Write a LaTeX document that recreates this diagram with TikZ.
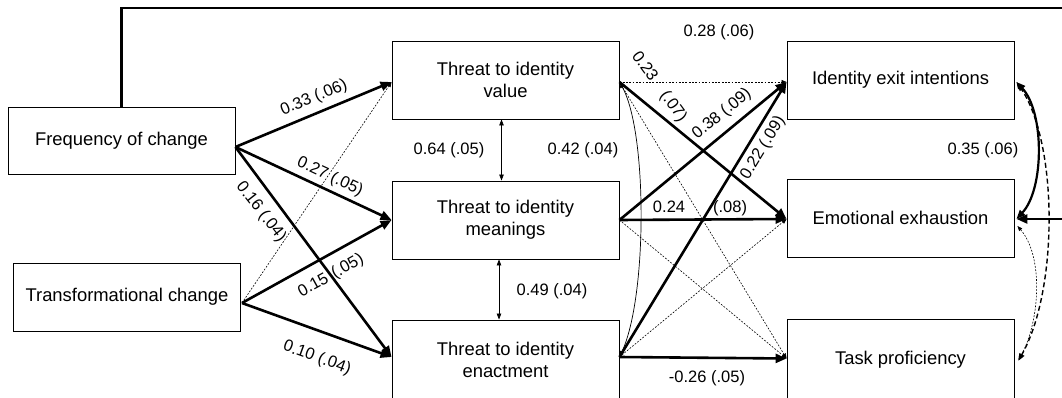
\documentclass[tikz,border=0pt]{standalone}
\usepackage{fontspec}
\setmainfont{Liberation Sans}
\usetikzlibrary{arrows.meta,calc}
\begin{document}
\begin{tikzpicture}[x=1pt,y=-1pt,
  box/.style={draw,line width=0.9pt,minimum width=227pt,minimum height=78pt,inner sep=0pt,align=center,font=\fontsize{18.4}{22}\selectfont},
  lab/.style={font=\fontsize{16.5}{18}\selectfont,inner sep=0pt},
  strong/.style={line width=2.6pt,-{Triangle[length=11pt,width=9pt]}},
  dotarr/.style={line width=0.6pt,dash pattern=on 1.8pt off 1.5pt,-{Triangle[length=5pt,width=4pt]}},
  thincorr/.style={line width=0.7pt,{Triangle[length=6pt,width=4.5pt]}-{Triangle[length=6pt,width=4.5pt]}},
  strongcorr/.style={line width=2.2pt,{Triangle[length=9pt,width=7pt]}-{Triangle[length=9pt,width=7pt]}},
  dashcorr/.style={line width=1.4pt,dash pattern=on 5pt off 3pt,{Triangle[length=7pt,width=5.5pt]}-{Triangle[length=7pt,width=5.5pt]}},
  dotcorr/.style={line width=0.6pt,dash pattern=on 1.8pt off 1.5pt,{Triangle[length=5pt,width=4pt]}-{Triangle[length=5pt,width=4pt]}}]
\useasboundingbox (0,0) rectangle (1062,398);
\clip (0,0) rectangle (1062,398);

% boxes
\node[box,minimum height=67pt] (F) at (121.5,140.5) {Frequency of change};
\node[box,minimum height=68pt] (T) at (127,297) {Transformational change};
\node[box] (V) at (505.5,80) {Threat to identity\\value};
\node[box] (M) at (505.5,220) {Threat to identity\\meanings};
\node[box,minimum height=80pt] (E) at (505.5,360) {Threat to identity\\enactment};
\node[box] (X) at (900.5,80) {Identity exit intentions};
\node[box] (EE) at (900.5,218) {Emotional exhaustion};
\node[box,minimum height=81pt] (TP) at (900.5,359.5) {Task proficiency};

% anchor points
\coordinate (Fo) at ([yshift=-6.5pt]F.east);
\coordinate (To) at ([yshift=-6pt,xshift=1pt]T.east);
\coordinate (Vi) at ([yshift=-2pt]V.west);
\coordinate (Vo) at ([yshift=-2pt]V.east);
\coordinate (Mi) at (M.west);
\coordinate (Mo) at (M.east);
\coordinate (Ei) at ([yshift=3pt]E.west);
\coordinate (Eo) at ([yshift=3pt]E.east);
\coordinate (Xi) at ([yshift=-2pt]X.west);
\coordinate (EEi) at ([yshift=-1pt]EE.west);
\coordinate (TPi) at ([yshift=1pt]TP.west);
\coordinate (Xr) at ($(X.east)+(2,2)$);
\coordinate (EEr) at ($(EE.east)+(2,1)$);
\coordinate (EEr2) at ($(EE.east)+(3,8)$);
\coordinate (TPr) at ($(TP.east)+(4,1)$);
\coordinate (topR) at (1080,8);

% dotted paths
\draw[dotarr] (To) -- (Vi);
\draw[dotarr] (Vo) -- (Xi);
\draw[dotarr] (Vo) -- (TPi);
\draw[dotarr] (Mo) -- (TPi);
\draw[dotarr] (Eo) -- (EEi);

% thin correlations
\draw[thincorr] ([xshift=-4pt]V.south) -- ([xshift=-4pt]M.north);
\draw[thincorr] ([xshift=-6.5pt]M.south) -- ([xshift=-6.5pt]E.north);
\draw[thincorr] (Vo) .. controls ($(Vo)+(28,50)$) and ($(Eo)+(28,-60)$) .. (Eo);

% strong paths
\draw[strong] (Fo) -- (Vi);
\draw[strong] (Fo) -- (Mi);
\draw[strong] (Fo) -- (Ei);
\draw[strong] (To) -- (Mi);
\draw[strong] (To) -- (Ei);
\draw[strong] (Vo) -- (EEi);
\draw[strong] (Mo) -- (Xi);
\draw[strong] (Mo) -- (EEi);
\draw[strong] (Eo) -- (Xi);
\draw[strong] (Eo) -- (TPi);
\draw[strong] (F.north) |- (topR) |- (EEr);

% right-side correlations
\draw[dotcorr] (EEr2) .. controls ($(EEr2)+(26,30)$) and ($(TPr)+(22,-40)$) .. (TPr);
\draw[dashcorr] (Xr) .. controls ($(Xr)+(42,60)$) and ($(TPr)+(40,-70)$) .. (TPr);
\draw[strongcorr] (Xr) .. controls ($(Xr)+(28,30)$) and ($(EEr)+(28,-30)$) .. (EEr);

% labels
\node[lab,rotate=22.5] (l1) at (314,98) {0.33 (.06)};
\node[lab,rotate=-25] (l2) at (330,177) {0.27 (.05)};
\node[lab,rotate=-52] (l3) at (261,212) {0.16 (.04)};
\node[lab,rotate=29] (l4) at (331,276) {0.15\hspace{6pt}(.05)};
\node[lab,rotate=-20] (l5) at (317,358) {0.10 (.04)};
\node[lab] (l6) at (719,32) {0.28 (.06)};
\node[lab,rotate=-54] (l7) at (659,87) {0.23\hspace{16pt}(.07)};
\node[lab,rotate=39.4] (l8) at (722,114) {0.38 (.09)};
\node[lab] (l9) at (700,208) {0.24\hspace{28pt}(.08)};
\node[lab,rotate=58.6] (l10) at (763,148) {0.22 (.09)};
\node[lab] (l11) at (707,378) {-0.26 (.05)};
\node[lab] (l12) at (449,150) {0.64 (.05)};
\node[lab] (l13) at (583,150) {0.42 (.04)};
\node[lab] (l14) at (552,291) {0.49 (.04)};
\node[lab] (l15) at (983,150) {0.35 (.06)};
\end{tikzpicture}
\end{document}
